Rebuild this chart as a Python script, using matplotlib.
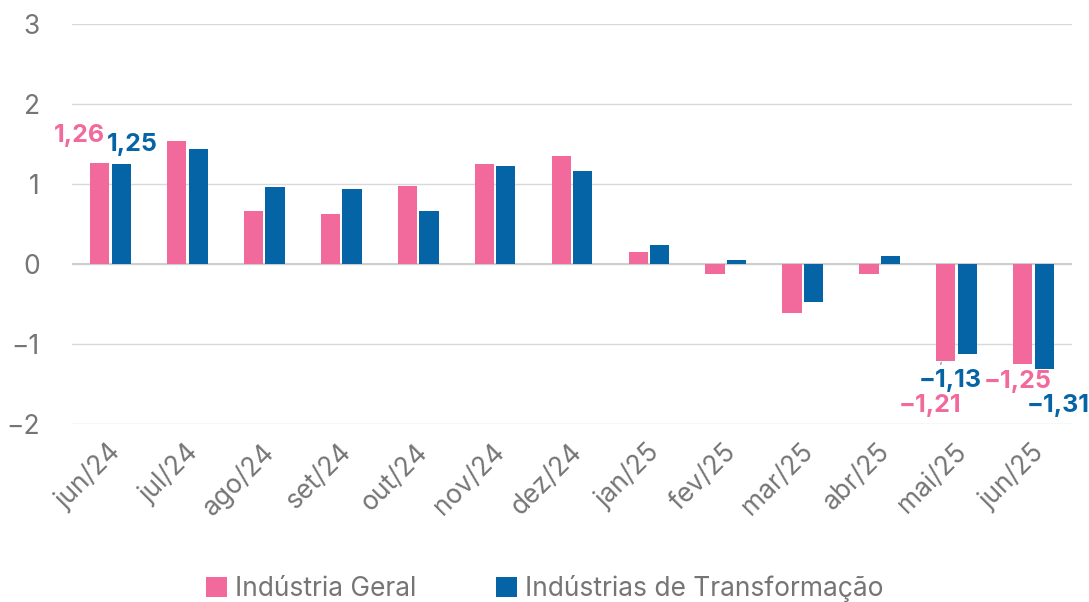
import matplotlib
matplotlib.use('Agg')
import matplotlib.pyplot as plt
import numpy as np

meses = ["jun/24", "jul/24", "ago/24", "set/24", "out/24", "nov/24", "dez/24",
         "jan/25", "fev/25", "mar/25", "abr/25", "mai/25", "jun/25"]
industria_geral = [1.26, 1.54, 0.66, 0.62, 0.98, 1.25, 1.35, 0.15, -0.13, -0.61, -0.13, -1.21, -1.25]
transformacao = [1.25, 1.44, 0.96, 0.94, 0.66, 1.22, 1.16, 0.24, 0.05, -0.47, 0.10, -1.13, -1.31]

rosa = "#F2699B"
azul = "#0564A5"
cinza = "#757575"

plt.rcParams['font.family'] = ['Inter', 'DejaVu Sans']

fig = plt.figure(figsize=(10.89, 6.02), dpi=100)
ax = fig.add_axes([72/1089, 1 - 424/602, 1000/1089, 400/602])

x = np.arange(len(meses))
w = 0.25
ax.bar(x - 0.14, industria_geral, w, color=rosa, label="Indústria Geral", zorder=3)
ax.bar(x + 0.14, transformacao, w, color=azul, label="Indústrias de Transformação", zorder=3)

ax.set_xlim(-0.5, len(meses) - 0.5)
ax.set_ylim(-2, 3)
ax.set_yticks([-2, -1, 0, 1, 2, 3])
ax.set_yticklabels(["−2", "−1", "0", "1", "2", "3"])
ax.grid(axis='y', color="#d9d9d9", linewidth=1, zorder=0)
ax.axhline(0, color="#cfcfcf", linewidth=1.5, zorder=2)
for s in ax.spines.values():
    s.set_visible(False)
ax.tick_params(axis='both', length=0, labelsize=19, labelcolor=cinza)
ax.tick_params(axis='y', pad=23)
ax.set_xticks(x)
ax.set_xticklabels(meses, rotation=45, ha='right', rotation_mode='anchor')
for lbl in ax.get_xticklabels():
    lbl.set_transform(lbl.get_transform() + matplotlib.transforms.ScaledTranslation(-0.03, -0.1, fig.dpi_scale_trans))


def fmt(v):
    return ("%.2f" % v).replace(".", ",").replace("-", "−")


kw = dict(fontsize=18, fontweight='bold', ha='center', va='center')
ax.text(x[0] - 0.4, 1.61, fmt(industria_geral[0]), color=rosa, **kw)
ax.text(x[0] + 0.29, 1.49, fmt(transformacao[0]), color=azul, **kw)
ax.text(x[11] - 0.08, -1.45, fmt(transformacao[11]), color=azul, **kw)
ax.annotate(fmt(industria_geral[11]), xy=(x[11] - 0.2, industria_geral[11] - 0.02),
            xytext=(x[11] - 0.34, -1.77), color=rosa,
            arrowprops=dict(arrowstyle='-', color="#999999", lw=1,
                            shrinkA=20, shrinkB=0), **kw)
ax.text(x[12] - 0.2, -1.47, fmt(industria_geral[12]), color=rosa, **kw)
ax.text(x[12] + 0.32, -1.77, fmt(transformacao[12]), color=azul, **kw)

fig.legend(loc='lower center', bbox_to_anchor=(0.5, -0.04), ncol=2, frameon=False,
           fontsize=19, labelcolor=cinza, handlelength=0.8, handleheight=0.8,
           handletextpad=0.3, columnspacing=3.0)

fig.savefig("out.png", dpi=100)
